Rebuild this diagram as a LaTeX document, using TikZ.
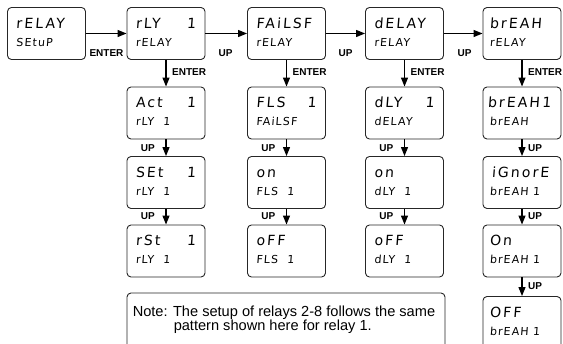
\documentclass[tikz,border=0pt]{standalone}
\usepackage{fontspec}
\usepackage{tikz}
\usetikzlibrary{arrows.meta}
\newfontfamily\lcdfont[LetterSpace=15,FakeSlant=0.08]{DejaVu Sans}
\newfontfamily\lcdsmall[LetterSpace=10,FakeSlant=0.08]{DejaVu Sans}
\newfontfamily\labfont{Liberation Sans}

\begin{document}
\begin{tikzpicture}[x=1pt,y=1pt,yscale=-1,xscale=1,
  box/.style={draw=black!85,line width=0.9pt,rounded corners=4pt,minimum width=78pt,minimum height=52pt,inner sep=0pt},
  big/.style={anchor=base west,inner sep=0pt,font=\lcdfont\fontsize{14}{14}\selectfont},
  bigw/.style={big,text width=60pt,align=left},
  small/.style={anchor=base west,inner sep=0pt,font=\lcdsmall\fontsize{11}{11}\selectfont},
  key/.style={inner sep=0pt,font=\labfont\bfseries\fontsize{10}{10}\selectfont},
  go/.style={-{Triangle[length=9pt,width=7pt]},line width=1.2pt}]
\useasboundingbox (0,0) rectangle (563,344);
%Shape: Rounded Rects, top row
\node[box] (setup) at (46.5,33.5) {};
\node[big] (setupA) at ([shift={(9,21)}]setup.north west) {rELAY};
\node[small] (setupB) at ([shift={(9,39)}]setup.north west) {SEtuP};
\node[box] (rly) at (166,33.5) {};
\node[bigw] (rlyA) at ([shift={(9,21)}]rly.north west) {rLY\hfill 1};
\node[small] (rlyB) at ([shift={(9,39)}]rly.north west) {rELAY};
\node[box] (fail) at (286.5,33.5) {};
\node[big] (failA) at ([shift={(9,21)}]fail.north west) {FAiLSF};
\node[small] (failB) at ([shift={(9,39)}]fail.north west) {rELAY};
\node[box] (dly) at (404.5,33.5) {};
\node[big] (dlyA) at ([shift={(9,21)}]dly.north west) {dELAY};
\node[small] (dlyB) at ([shift={(9,39)}]dly.north west) {rELAY};
\node[box] (brk) at (522,33.5) {};
\node[big] (brkA) at ([shift={(7,21)}]brk.north west) {brEAH};
\node[small] (brkB) at ([shift={(7,39)}]brk.north west) {rELAY};
%Shape: Rounded Rects, relay column
\node[box] (act) at (166,113) {};
\node[bigw] (actA) at ([shift={(9,21)}]act.north west) {Act\hfill 1};
\node[small] (actB) at ([shift={(9,39)}]act.north west) {rLY~~1};
\node[box] (set) at (166,182.5) {};
\node[bigw] (setA) at ([shift={(9,21)}]set.north west) {SEt\hfill 1};
\node[small] (setB) at ([shift={(9,39)}]set.north west) {rLY~~1};
\node[box] (rst) at (166,251) {};
\node[bigw] (rstA) at ([shift={(9,21)}]rst.north west) {rSt\hfill 1};
\node[small] (rstB) at ([shift={(9,39)}]rst.north west) {rLY~~1};
%Shape: Rounded Rects, failsafe column
\node[box] (fls) at (286.5,113) {};
\node[bigw] (flsA) at ([shift={(9,21)}]fls.north west) {FLS\hfill 1};
\node[small] (flsB) at ([shift={(9,39)}]fls.north west) {FAiLSF};
\node[box] (flson) at (286.5,182.5) {};
\node[big] (flsonA) at ([shift={(9,21)}]flson.north west) {on};
\node[small] (flsonB) at ([shift={(9,39)}]flson.north west) {FLS~~1};
\node[box] (flsoff) at (286.5,251) {};
\node[big] (flsoffA) at ([shift={(9,21)}]flsoff.north west) {oFF};
\node[small] (flsoffB) at ([shift={(9,39)}]flsoff.north west) {FLS~~1};
%Shape: Rounded Rects, delay column
\node[box] (dlyset) at (404.5,113) {};
\node[bigw] (dlysetA) at ([shift={(9,21)}]dlyset.north west) {dLY\hfill 1};
\node[small] (dlysetB) at ([shift={(9,39)}]dlyset.north west) {dELAY};
\node[box] (dlyon) at (404.5,182.5) {};
\node[big] (dlyonA) at ([shift={(9,21)}]dlyon.north west) {on};
\node[small] (dlyonB) at ([shift={(9,39)}]dlyon.north west) {dLY~~1};
\node[box] (dlyoff) at (404.5,251) {};
\node[big] (dlyoffA) at ([shift={(9,21)}]dlyoff.north west) {oFF};
\node[small] (dlyoffB) at ([shift={(9,39)}]dlyoff.north west) {dLY~~1};
%Shape: Rounded Rects, break column
\node[box] (brkset) at (522,113) {};
\node[big] (brksetA) at ([shift={(5,21)}]brkset.north west) {brEAH\hspace{2.5pt}1};
\node[small] (brksetB) at ([shift={(7,39)}]brkset.north west) {brEAH};
\node[box] (ignore) at (522,182.5) {};
\node[big] (ignoreA) at ([shift={(9,21)}]ignore.north west) {iGnorE};
\node[small] (ignoreB) at ([shift={(7,39)}]ignore.north west) {brEAH 1};
\node[box] (brkon) at (522,251) {};
\node[big] (brkonA) at ([shift={(7,21)}]brkon.north west) {On};
\node[small] (brkonB) at ([shift={(7,39)}]brkon.north west) {brEAH 1};
\node[box] (brkoff) at (522,322.5) {};
\node[big] (brkoffA) at ([shift={(7,21)}]brkoff.north west) {OFF};
\node[small] (brkoffB) at ([shift={(7,39)}]brkoff.north west) {brEAH 1};
%Shape: Note box
\node[box,minimum width=318pt,minimum height=58pt] (note) at (286,322) {};
\node[anchor=base west,inner sep=0pt,font=\labfont\fontsize{14.6}{14.6}\selectfont] (noteA) at ([shift={(6,24)}]note.north west) {Note: The setup of relays 2-8 follows the same};
\node[anchor=base west,inner sep=0pt,font=\labfont\fontsize{14.6}{14.6}\selectfont] (noteB) at ([shift={(47,37.5)}]note.north west) {pattern shown here for relay 1.};
%Straight Lines, top row
\draw[go] (setup) -- (rly);
\draw[go] (rly) -- (fail);
\draw[go] (fail) -- (dly);
\draw[go] (dly) -- (brk);
%Straight Lines, down the columns
\draw[go] (rly) -- (act);
\draw[go] (act) -- (set);
\draw[go] (set) -- (rst);
\draw[go] (fail) -- (fls);
\draw[go] (fls) -- (flson);
\draw[go] (flson) -- (flsoff);
\draw[go] (dly) -- (dlyset);
\draw[go] (dlyset) -- (dlyon);
\draw[go] (dlyon) -- (dlyoff);
\draw[go] (brk) -- (brkset);
\draw[go] (brkset) -- (ignore);
\draw[go] (ignore) -- (brkon);
\draw[go] (brkon) -- (brkoff);
% Text Node
\node[key] (enter0) at (106.5,53.5) {ENTER};
\node[key] (up1) at (225.5,53.5) {UP};
\node[key] (up2) at (345.5,53.5) {UP};
\node[key] (up3) at (464.5,53.5) {UP};
% Text Node
\node[key,anchor=west] (enter1) at (172,72) {ENTER};
\node[key,anchor=west] (enter2) at (292.5,72) {ENTER};
\node[key,anchor=west] (enter3) at (410.5,72) {ENTER};
\node[key,anchor=west] (enter4) at (528,72) {ENTER};
% Text Node
\node[key,anchor=east] (upa) at (155,148.5) {UP};
\node[key,anchor=east] (upb) at (275.5,148.5) {UP};
\node[key,anchor=east] (upc) at (393.5,148.5) {UP};
\node[key,anchor=east] (upd) at (155,216.5) {UP};
\node[key,anchor=east] (upe) at (275.5,216.5) {UP};
\node[key,anchor=east] (upf) at (393.5,216.5) {UP};
\node[key,anchor=west] (upg) at (528,148.5) {UP};
\node[key,anchor=west] (uph) at (528,216.5) {UP};
\node[key,anchor=west] (upi) at (528,286) {UP};
\end{tikzpicture}
\end{document}
